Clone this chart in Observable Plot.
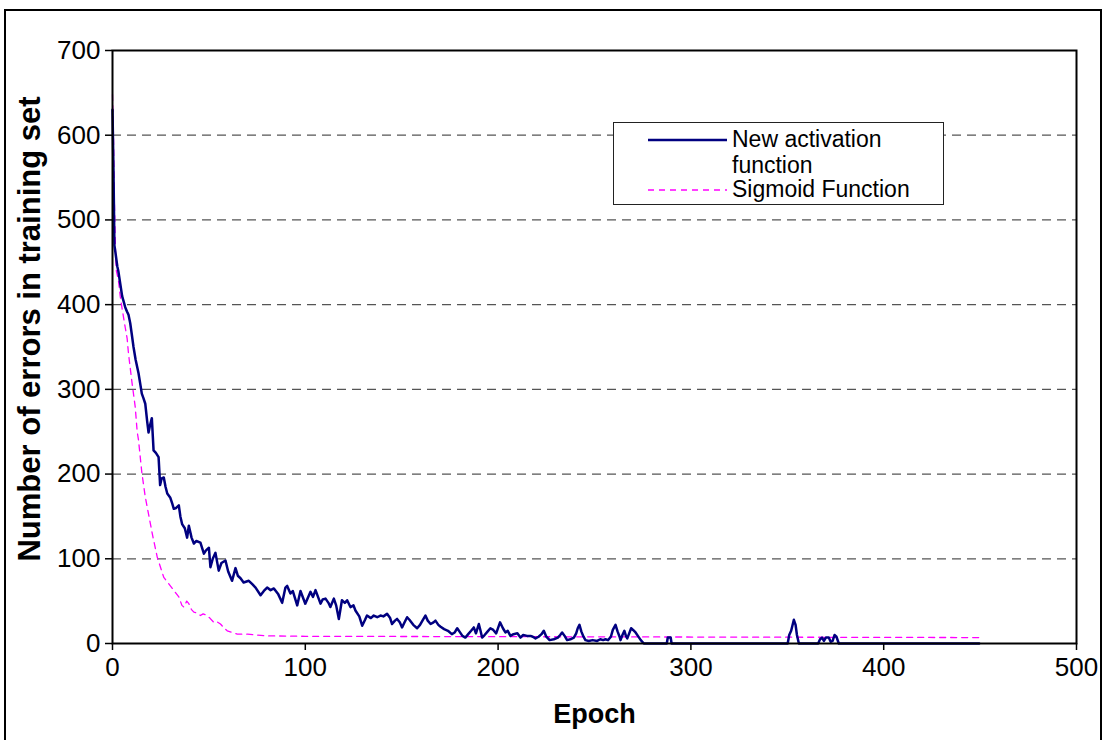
<!DOCTYPE html>
<html>
<head>
<meta charset="utf-8">
<script src="https://cdn.jsdelivr.net/npm/d3@7"></script>
<script src="https://cdn.jsdelivr.net/npm/@observablehq/plot@0.6"></script>
<style>
  body { margin: 0; background: white; }
  #wrap { position: relative; width: 1104px; height: 740px; overflow: hidden; font-family: "Liberation Sans", Arial, sans-serif; }
  #outer { position: absolute; left: 4px; top: 9px; width: 1094px; height: 780px; border: 2px solid black; pointer-events: none; }
  #legend { position: absolute; left: 613px; top: 122px; width: 331px; height: 83px; border: 1.5px solid #222; background: white; box-sizing: border-box; }
  #legend svg { position: absolute; left: 0; top: 0; }
  .lt { position: absolute; left: 118px; font-size: 23px; color: black; white-space: nowrap; line-height: 1; }
</style>
</head>
<body>
<div id="wrap">
  <div id="chart"></div>
  <div id="outer"></div>
  <div id="legend">
    <svg width="331" height="83">
      <line x1="34" x2="113" y1="17" y2="17" stroke="#000080" stroke-width="2.5"></line>
      <line x1="34" x2="113" y1="67" y2="67" stroke="#ff00ff" stroke-width="1.3" stroke-dasharray="6,5"></line>
    </svg>
    <div class="lt" style="top:5px">New activation</div>
    <div class="lt" style="top:31px">function</div>
    <div class="lt" style="top:55px">Sigmoid Function</div>
  </div>
</div>
<script>
const seriesNames = ["New activation function", "Sigmoid Function"];
const xTicks = [0, 100, 200, 300, 400, 500];
const yTicks = [0, 100, 200, 300, 400, 500, 600, 700];
const gridValues = [100, 200, 300, 400, 500, 600];
const xTitle = "Epoch";
const yTitle = "Number of errors in training set";

const blueEpoch = [0,0.5,1,1.5,2.5,3,4,5,6.6,7.5,8.3,9.2,10,10.9,12,13.5,14.5,15.2,16,17,18,18.7,19.5,20.4,21.3,22.5,23.9,24.7,25.5,26.6,27.5,28.4,30,31,31.8,33,34.4,35.2,36.1,37.5,38.7,39.6,41,42.2,43.5,45.6,47.4,48.5,50,50.8,52,53.4,55.1,56.5,58.6,60,62,63.8,65,66.4,68,70.7,72.5,74.2,76.8,78.5,80.2,82,83.7,86,88,89.7,90.6,92.3,93.5,95.8,97.5,100,102.7,104,105.3,107.9,109,110.5,112,113,114.8,116,117.4,119,120.5,121.7,123.4,125,126,128,129.5,131,132,134,135.5,137.3,139,140.5,142.4,144,145,146.5,147.6,149,150.2,151.5,152.8,154,156,158,159.5,161,162.3,163.5,165,166.5,167.5,169,170,172,174,176,177.5,178.8,180,181.5,183,184.5,186,187.4,188.5,190,190.8,191.7,193,194.5,196,197.5,199,201,202.5,203.8,205,206.4,208,210,211.6,213,215,216.8,218,219.4,221,222.5,223.7,225,226.7,228.9,231,232.2,233.2,234.5,235.8,237.5,239.3,240.5,241.3,242.2,243.2,244.3,245.3,247,249,251.4,253,254.5,255.7,257,258.5,259.5,260.9,262,263,263.5,264.5,265.5,266.3,267,268,269,270,271.3,272.5,274,275.6,287.5,288,289.5,290,350.2,351,352,353.4,354.3,355,356,366,367,368,369,370,371.5,372.5,373.5,374.5,375.5,376.7,449.5];
const blueErrors = [630,560,470,462,445,440,425,410,397,392,388,378,365,350,335,319,305,295,290,283,262,249,258,266,228,225,220,187,195,196,185,177,172,165,159,160,163,150,141,136,125,139,125,118,121,119,106,110,113,90,100,107,86,95,98,85,74,89,80,77,72,74,70,66,57,62,66,63,65,58,48,66,68,59,62,45,62,47,61,55,63,47,52,53,48,43,53,45,29,51,48,51,43,45,39,32,21,28,33,30,33,31,33,32,35,30,23,27,29,25,19,25,31,28,22,18,22,28,33,27,23,25,27,22,20,17,15,11,13,18,14,9,7,11,15,19,12,23,16,7,10,14,18,16,12,25,18,13,15,9,11,12,7,10,9,9,8,6,8,11,15,8,4,5,7,10,13,9,4,5,7,12,18,22,14,8,4,3,4,3,5,4,5,4,8,16,22,14,8,4,10,15,9,6,12,18,16,13,9,4,0,0,7,7,0,0,10,15,28,22,10,0,0,5,7,3,7,7,2,3,10,8,0,0];

const sigmoidEpoch = [0,0.5,1,1.6,2,3,4,5,6.6,7.6,8.3,10,11.8,12.8,13.5,15.2,17,18,20.6,23.2,26.6,30,32,34.4,36,37,38.5,39.6,41,42.2,44,45.6,47,49,50.5,52.5,54,56,58,59.5,62,64.7,70,75,80,100,450];
const sigmoidErrors = [648,600,520,460,440,430,410,395,373,360,342,310,279,250,240,202,173,161,130,102,78,68,62,55,45,43,50,47,40,37,36,33,35,33,30,25,26,23,18,15,13,11,11,10,9,8.5,7];

const blue = blueEpoch.map((e, i) => ({epoch: e, errors: blueErrors[i], series: seriesNames[0]}));
const sigmoid = sigmoidEpoch.map((e, i) => ({epoch: e, errors: sigmoidErrors[i], series: seriesNames[1]}));

const chart = Plot.plot({
  width: 1104,
  height: 740,
  marginLeft: 112,
  marginRight: 28,
  marginTop: 50,
  marginBottom: 97,
  style: {fontFamily: "'Liberation Sans', Arial, sans-serif", fontSize: "26px", color: "black", background: "transparent", overflow: "visible"},
  x: {domain: [0, 500]},
  y: {domain: [0, 700]},
  marks: [
    Plot.ruleY(gridValues, {stroke: "#555", strokeWidth: 1.3, strokeDasharray: "9,6"}),
    Plot.line(sigmoid, {x: "epoch", y: "errors", stroke: "#ff00ff", strokeWidth: 1.3, strokeDasharray: "6,5"}),
    Plot.line(blue, {x: "epoch", y: "errors", stroke: "#000080", strokeWidth: 2.5, strokeLinejoin: "round"}),
    Plot.frame({stroke: "black", strokeWidth: 2}),
    Plot.axisY(yTicks, {tickSize: 7, tickPadding: 5, tickFormat: d => String(d), label: null, stroke: "black", strokeWidth: 1.5, fontSize: 26}),
    Plot.axisX(xTicks, {tickSize: 7, tickPadding: 7, tickFormat: d => String(d), label: null, stroke: "black", strokeWidth: 1.5, fontSize: 26}),
    Plot.text([yTitle], {frameAnchor: "left", textAnchor: "middle", dx: -82, dy: -18, rotate: -90, fontSize: 31, fontWeight: "bold", fill: "black"}),
    Plot.text([xTitle], {frameAnchor: "bottom", dy: 79, fontSize: 27, fontWeight: "bold", fill: "black"})
  ]
});
document.getElementById("chart").appendChild(chart);
</script>
</body>
</html>
